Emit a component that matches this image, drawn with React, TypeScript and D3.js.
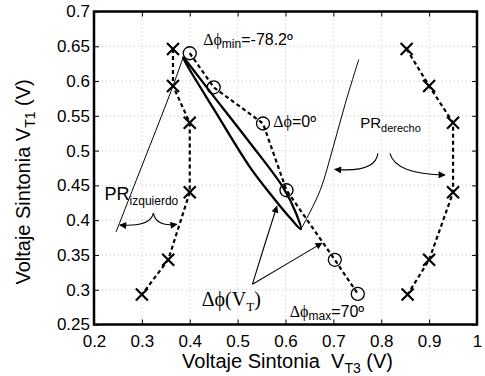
import { useEffect, useRef } from 'react'
import * as d3 from 'd3'

type Pt = [number, number]

// X markers, left branch (PR izquierdo)
const leftCrosses: Pt[] = [
  [0.365, 0.646],
  [0.365, 0.593],
  [0.4, 0.54],
  [0.4, 0.44],
  [0.355, 0.343],
  [0.3, 0.293],
]

// X markers, right branch (PR derecho)
const rightCrosses: Pt[] = [
  [0.853, 0.646],
  [0.9, 0.593],
  [0.95, 0.54],
  [0.95, 0.44],
  [0.9, 0.343],
  [0.855, 0.293],
]

// circle markers, dashed
const circles: Pt[] = [
  [0.4, 0.64],
  [0.45, 0.591],
  [0.553, 0.539],
  [0.602, 0.443],
  [0.703, 0.343],
  [0.751, 0.294],
]

// thick closed loop
const loop: Pt[] = [
  [0.386, 0.634],
  [0.45, 0.578],
  [0.526, 0.511],
  [0.595, 0.447],
  [0.622, 0.41],
  [0.632, 0.387],
  [0.61, 0.403],
  [0.575, 0.432],
  [0.526, 0.476],
  [0.45, 0.56],
  [0.395, 0.622],
]

// thin boundary lines
const thinLeft: Pt[] = [
  [0.246, 0.383],
  [0.279, 0.441],
  [0.365, 0.593],
  [0.386, 0.634],
]

const thinRight: Pt[] = [
  [0.632, 0.387],
  [0.65, 0.41],
  [0.673, 0.444],
  [0.7, 0.506],
  [0.725, 0.568],
  [0.753, 0.631],
]

const xTicks = [0.2, 0.3, 0.4, 0.5, 0.6, 0.7, 0.8, 0.9, 1]
const yTicks = [0.25, 0.3, 0.35, 0.4, 0.45, 0.5, 0.55, 0.6, 0.65, 0.7]

const App = () => {
  const svgRef = useRef<SVGSVGElement>(null)

  useEffect(() => {
    if (!svgRef.current) return
    d3.select(svgRef.current).selectAll('*').remove()

    const svg = d3.select(svgRef.current)
    const margin = { top: 11.5, right: 8, bottom: 51.5, left: 94 }
    const width = 485 - margin.left - margin.right
    const height = 376 - margin.top - margin.bottom
    const sans = '"Liberation Sans", Arial, sans-serif'
    const serif = '"Liberation Serif", "Times New Roman", serif'

    const x = d3.scaleLinear().domain([0.2, 1]).range([0, width])
    const y = d3.scaleLinear().domain([0.25, 0.7]).range([height, 0])

    const defs = svg.append('defs')
    defs
      .append('marker')
      .attr('id', 'ah')
      .attr('viewBox', '0 0 10 10')
      .attr('refX', 9)
      .attr('refY', 5)
      .attr('markerWidth', 10)
      .attr('markerHeight', 7)
      .attr('markerUnits', 'userSpaceOnUse')
      .attr('orient', 'auto')
      .append('path')
      .attr('d', 'M0,0 L10,5 L0,10 Z')
      .attr('fill', '#000')

    const g = svg.append('g').attr('transform', `translate(${margin.left},${margin.top})`)

    // grid
    g.append('g')
      .selectAll('line')
      .data(yTicks)
      .enter()
      .append('line')
      .attr('x1', 0)
      .attr('x2', width)
      .attr('y1', (d) => y(d))
      .attr('y2', (d) => y(d))
      .attr('stroke', '#b5b5b5')
      .attr('stroke-width', 0.8)
      .attr('stroke-dasharray', '1,3')

    g.append('g')
      .selectAll('line')
      .data(xTicks)
      .enter()
      .append('line')
      .attr('x1', (d) => x(d))
      .attr('x2', (d) => x(d))
      .attr('y1', 0)
      .attr('y2', height)
      .attr('stroke', '#b5b5b5')
      .attr('stroke-width', 0.8)
      .attr('stroke-dasharray', '1,3')

    // axes (ticks inward on all sides)
    const fmt = (d: d3.NumberValue) => String(+d)
    const axB = g
      .append('g')
      .attr('transform', `translate(0,${height})`)
      .call(d3.axisBottom(x).tickValues(xTicks).tickSize(-5).tickPadding(10).tickFormat(fmt))
    const axL = g.append('g').call(d3.axisLeft(y).tickValues(yTicks).tickSize(-5).tickPadding(4).tickFormat(fmt))
    g.append('g').call(d3.axisTop(x).tickValues(xTicks).tickSize(-5).tickFormat(() => ''))
    g.append('g')
      .attr('transform', `translate(${width},0)`)
      .call(d3.axisRight(y).tickValues(yTicks).tickSize(-5).tickFormat(() => ''))
    g.selectAll('.domain').remove()
    g.selectAll('.tick line').attr('stroke', '#000').attr('stroke-width', 1)
    ;[axB, axL].forEach((a) => a.selectAll('text').style('font-family', sans).style('font-size', '17px').attr('fill', '#000'))

    g.append('rect')
      .attr('width', width)
      .attr('height', height)
      .attr('fill', 'none')
      .attr('stroke', '#000')
      .attr('stroke-width', 2.5)

    const line = d3
      .line<Pt>()
      .x((d) => x(d[0]))
      .y((d) => y(d[1]))

    // thin lines
    ;[thinLeft, thinRight].forEach((pts) => {
      g.append('path')
        .attr('fill', 'none')
        .attr('stroke', '#000')
        .attr('stroke-width', 1)
        .attr('d', line.curve(d3.curveCatmullRom)(pts))
    })

    // loop
    g.append('path')
      .attr('fill', 'none')
      .attr('stroke', '#000')
      .attr('stroke-width', 2.3)
      .attr('d', line.curve(d3.curveCatmullRomClosed.alpha(0.5))(loop))

    // dashed series
    ;[leftCrosses, rightCrosses, circles].forEach((pts) => {
      g.append('path')
        .attr('fill', 'none')
        .attr('stroke', '#000')
        .attr('stroke-width', 2.2)
        .attr('stroke-dasharray', '4,3')
        .attr('d', line.curve(d3.curveLinear)(pts))
    })

    // X markers
    const s = 6
    ;[...leftCrosses, ...rightCrosses].forEach((d) => {
      const cx = x(d[0])
      const cy = y(d[1])
      g.append('path')
        .attr('d', `M${cx - s},${cy - s}L${cx + s},${cy + s}M${cx - s},${cy + s}L${cx + s},${cy - s}`)
        .attr('stroke', '#000')
        .attr('stroke-width', 2.2)
    })

    // circle markers
    g.selectAll('circle.m')
      .data(circles)
      .enter()
      .append('circle')
      .attr('cx', (d) => x(d[0]))
      .attr('cy', (d) => y(d[1]))
      .attr('r', 6.5)
      .attr('fill', 'none')
      .attr('stroke', '#000')
      .attr('stroke-width', 1.3)

    // annotation arrows (data units)
    const arrow = (p0: Pt, c: Pt, p1: Pt) => {
      const path = d3.path()
      path.moveTo(x(p0[0]), y(p0[1]))
      path.quadraticCurveTo(x(c[0]), y(c[1]), x(p1[0]), y(p1[1]))
      g.append('path')
        .attr('d', path.toString())
        .attr('fill', 'none')
        .attr('stroke', '#000')
        .attr('stroke-width', 1.1)
        .attr('marker-end', 'url(#ah)')
    }
    // PR derecho
    arrow([0.793, 0.496], [0.788, 0.468], [0.703, 0.473])
    arrow([0.818, 0.496], [0.83, 0.466], [0.933, 0.465])
    // PR izquierdo (brace)
    arrow([0.324, 0.41], [0.318, 0.39], [0.254, 0.393])
    arrow([0.324, 0.41], [0.33, 0.39], [0.373, 0.394])
    // Δϕ(VT)
    arrow([0.531, 0.308], [0.556, 0.364], [0.582, 0.42])
    arrow([0.531, 0.308], [0.603, 0.337], [0.676, 0.367])

    // labels
    const label = (px: number, py: number, parts: { t: string; f?: string; size: number; dy?: number }[]) => {
      const t = g.append('text').attr('x', x(px)).attr('y', y(py)).attr('fill', '#000')
      parts.forEach((p) => {
        t.append('tspan')
          .attr('dy', p.dy ?? 0)
          .style('font-family', p.f ?? sans)
          .style('font-size', `${p.size}px`)
          .text(p.t)
      })
    }
    label(0.428, 0.652, [
      { t: 'Δϕ', f: serif, size: 16 },
      { t: 'min', size: 12, dy: 3 },
      { t: '=-78.2º', size: 16, dy: -3 },
    ])
    label(0.5745, 0.534, [
      { t: 'Δϕ', f: serif, size: 16 },
      { t: '=0º', size: 16 },
    ])
    label(0.609, 0.261, [
      { t: 'Δϕ', f: serif, size: 16 },
      { t: 'max', size: 12, dy: 3 },
      { t: '=70º', size: 16, dy: -3 },
    ])
    label(0.756, 0.532, [
      { t: 'PR', size: 15 },
      { t: 'derecho', size: 11, dy: 4 },
    ])
    label(0.222, 0.429, [
      { t: 'PR', size: 18 },
      { t: 'izquierdo', size: 12, dy: 5 },
    ])
    label(0.425, 0.276, [
      { t: 'Δϕ(V', f: serif, size: 20 },
      { t: 'T', f: serif, size: 13, dy: 5 },
      { t: ')', f: serif, size: 20, dy: -5 },
    ])

    // axis titles
    const xt = g
      .append('text')
      .attr('x', x(0.6) + 2)
      .attr('y', height + 43)
      .attr('text-anchor', 'middle')
      .style('font-family', sans)
      .style('font-size', '20px')
      .style('white-space', 'pre')
    xt.append('tspan').text('Voltaje Sintonia  V')
    xt.append('tspan').attr('dy', 5).style('font-size', '14px').text('T3')
    xt.append('tspan').attr('dy', -5).text(' (V)')

    const yt = svg
      .append('text')
      .attr('transform', `translate(30,${margin.top + y(0.455)}) rotate(-90)`)
      .attr('text-anchor', 'middle')
      .style('font-family', sans)
      .style('font-size', '20px')
    yt.append('tspan').text('Voltaje Sintonia V')
    yt.append('tspan').attr('dy', 5).style('font-size', '14px').text('T1')
    yt.append('tspan').attr('dy', -5).text(' (V)')
  }, [])

  return (
    <svg
      ref={svgRef}
      width={485}
      height={376}
      style={{ position: 'absolute', left: 0, top: 0, background: '#fff' }}
    />
  )
}

export default App
